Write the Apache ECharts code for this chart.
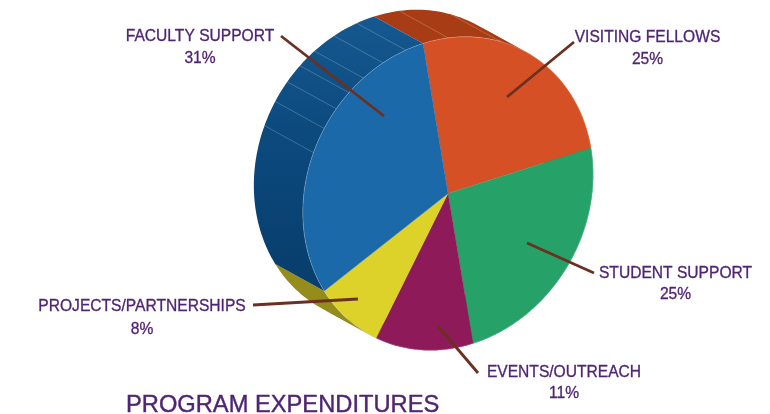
<!DOCTYPE html>
<html><head><meta charset="utf-8">
<style>html,body{margin:0;padding:0;background:#fff}#c{width:770px;height:414px}</style>
<script src="https://cdn.jsdelivr.net/npm/echarts@6/dist/echarts.min.js"></script>
</head><body><div id="c"></div>
<script>
const categories = ['VISITING FELLOWS','STUDENT SUPPORT','EVENTS/OUTREACH','PROJECTS/PARTNERSHIPS','FACULTY SUPPORT'];
const shares = [25,25,11,8,31];
const titleText = 'PROGRAM EXPENDITURES';

const topColors  = ['#d55125','#26a269','#8e1a5a','#dcd229','#1b69a8'];
const wallColors = ['#a83c14','#1c7a4e','#6a1242','#958c1c','#0f4f85'];
const wallRibs = [10,31,53,302,311.4,319.6,326.9,334.3,343.3,353];
const centre = [448,193.5], axisU = [-25,-150], axisV = [143,-45.5], depth = [-49,-27];
const textColor = '#4f2472', leaderColor = '#6b3020';
const callouts = [
  {x:647.5,y:37.5,dy:22,pct:'25%',from:[574,42],to:[507,97]},
  {x:675.5,y:273.5,dy:21,pct:'25%',from:[594,273],to:[527,243]},
  {x:564,y:372.5,dy:21,pct:'11%',from:[478,373],to:[438,326]},
  {x:142,y:306.5,dy:23,pct:'8%',from:[253,305],to:[358,299]},
  {x:200,y:36.5,dy:22,pct:'31%',from:[281,36],to:[384,116]}
];
const total = shares.reduce((a,b)=>a+b,0);
const det = axisU[0]*axisV[1]-axisU[1]*axisV[0];
const tangent = Math.atan2((axisU[0]*depth[1]-axisU[1]*depth[0])/det,(depth[0]*axisV[1]-depth[1]*axisV[0])/det)*180/Math.PI+90;
function pt(deg,off){
  const r=deg*Math.PI/180,c=Math.cos(r),s=Math.sin(r),o=off?depth:[0,0];
  return [centre[0]+axisU[0]*c+axisV[0]*s+o[0], centre[1]+axisU[1]*c+axisV[1]*s+o[1]];
}
function range(i){
  let a=0;for(let k=0;k<i;k++)a+=shares[k];
  return [a/total*360,(a+shares[i])/total*360];
}
function arc(a,b,off){const p=[],n=Math.max(2,Math.ceil((b-a)/1.5));for(let k=0;k<=n;k++)p.push(pt(a+(b-a)*k/n,off));return p;}
const rows = categories.map((name,i)=>({name,value:shares[i]}));
const blueWall = new echarts.graphic.LinearGradient(0,20,0,265,[{offset:0,color:'#15588f'},{offset:0.45,color:'#0c4a7e'},{offset:1,color:'#083f6e'}],true);
const chart = echarts.init(document.getElementById('c'),null,{renderer:'canvas'});
chart.setOption({
  animation:false,
  backgroundColor:'#fff',
  title:{text:titleText,left:126,top:393,padding:0,textStyle:{color:textColor,fontFamily:'Liberation Sans',fontSize:23.7,fontWeight:'normal',textBorderColor:textColor,textBorderWidth:0.4}},
  series:[
    {type:'custom',name:'walls',coordinateSystem:'none',z:1,silent:true,data:rows,
     renderItem(params){
       const i=params.dataIndex,[a,b]=range(i);
       const fill=i===4?blueWall:wallColors[i];
       const cuts=[a];
       [tangent,tangent+180].forEach(t=>{if(t>a&&t<b)cuts.push(t);});
       cuts.push(b);
       const kids=[];
       for(let k=0;k<cuts.length-1;k++){
         const pts=arc(cuts[k],cuts[k+1],false).concat(arc(cuts[k],cuts[k+1],true).reverse());
         kids.push({type:'polygon',shape:{points:pts},style:{fill}});
       }
       wallRibs.filter(d=>d>=a&&d<b).forEach(d=>{
         const p=pt(d,false),q=pt(d,true);
         kids.push({type:'line',shape:{x1:q[0],y1:q[1],x2:p[0],y2:p[1]},style:{stroke:'rgba(255,255,255,0.3)',lineWidth:0.7}});
       });
       return {type:'group',children:kids};
     }},
    {type:'custom',name:'faces',coordinateSystem:'none',z:2,silent:true,data:rows,
     renderItem(params){
       const i=params.dataIndex,[a,b]=range(i);
       const pts=[centre].concat(arc(a,b,false));
       return {type:'group',children:[
         {type:'polygon',shape:{points:pts},style:{fill:topColors[i],stroke:topColors[i],lineWidth:0.3}},
         {type:'polyline',shape:{points:arc(a,b,false)},style:{fill:'none',stroke:'rgba(255,255,255,0.3)',lineWidth:0.7}}
       ]};
     }},
    {type:'custom',name:'callouts',coordinateSystem:'none',z:3,silent:true,data:rows,
     renderItem(params){
       const c=callouts[params.dataIndex];
       const font='15.6px "Liberation Sans"';
       const ts={fill:textColor,font,align:'center',verticalAlign:'middle',stroke:textColor,lineWidth:0.3};
       return {type:'group',children:[
         {type:'line',shape:{x1:c.from[0],y1:c.from[1],x2:c.to[0],y2:c.to[1]},style:{stroke:leaderColor,lineWidth:2.8}},
         {type:'text',style:Object.assign({x:c.x,y:c.y,text:categories[params.dataIndex]},ts)},
         {type:'text',style:Object.assign({x:c.x,y:c.y+c.dy,text:c.pct},ts)}
       ]};
     }}
  ]
});
</script></body></html>
